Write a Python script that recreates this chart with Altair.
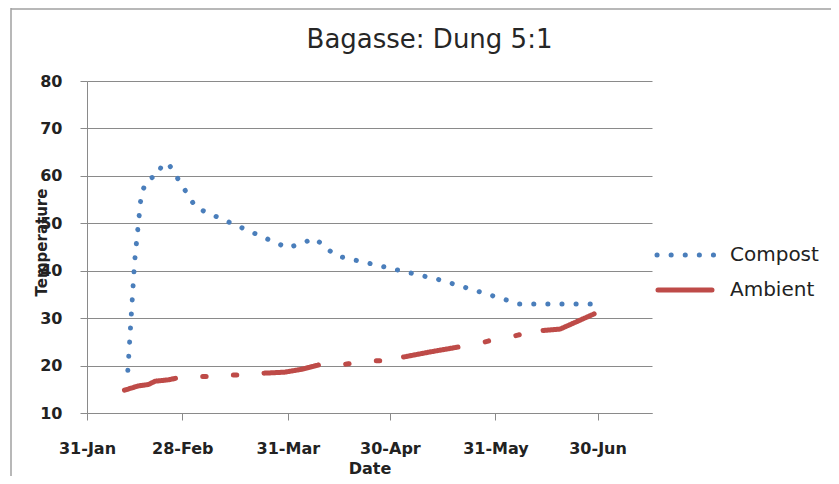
import altair as alt
import pandas as pd

title_text = "Bagasse: Dung 5:1"
x_title = "Date"
y_title = "Temperature"
series_names = ["Compost", "Ambient"]
series_colors = ["#4A7EBB", "#BE4B48"]
series_dashes = [[0.1, 14], [1, 0]]

start_date = "2011-01-31"
end_date = "2011-07-16"
tick_dates = ["2011-01-31", "2011-02-28", "2011-03-31", "2011-04-30", "2011-05-31", "2011-06-30"]
tick_labels = ["31-Jan", "28-Feb", "31-Mar", "30-Apr", "31-May", "30-Jun"]
y_ticks = [10, 20, 30, 40, 50, 60, 70, 80]

compost_dates = ["2011-02-12", "2011-02-14", "2011-02-16", "2011-02-18", "2011-02-21",
                 "2011-02-22", "2011-02-24", "2011-03-04", "2011-03-31", "2011-04-08",
                 "2011-04-14", "2011-05-14", "2011-05-22", "2011-06-07", "2011-06-30"]
compost_values = [19, 42, 56.5, 59.3, 60.2, 62.5, 62.5, 53.3, 44.8, 46.8, 43.2, 38.2, 36.5, 33, 33]

ambient_dates = ["2011-02-11", "2011-02-15", "2011-02-18", "2011-02-20", "2011-02-24", "2011-02-26",
                 "2011-03-06", "2011-03-07",
                 "2011-03-15", "2011-03-16",
                 "2011-03-24", "2011-03-30", "2011-04-04", "2011-04-09",
                 "2011-04-17", "2011-04-18",
                 "2011-04-26", "2011-04-27",
                 "2011-05-04", "2011-05-12", "2011-05-20",
                 "2011-05-28", "2011-05-29",
                 "2011-06-06", "2011-06-07",
                 "2011-06-14", "2011-06-19", "2011-06-29"]
ambient_values = [14.8, 15.7, 16.0, 16.7, 17.0, 17.3,
                  17.7, 17.7,
                  18.0, 18.0,
                  18.4, 18.6, 19.2, 20.1,
                  20.3, 20.4,
                  21.0, 21.0,
                  21.8, 22.9, 23.9,
                  25.0, 25.2,
                  26.3, 26.5,
                  27.4, 27.7, 30.9]
ambient_segments = [1, 1, 1, 1, 1, 1,
                    2, 2,
                    3, 3,
                    4, 4, 4, 4,
                    5, 5,
                    6, 6,
                    7, 7, 7,
                    8, 8,
                    9, 9,
                    10, 10, 10]

t0 = pd.Timestamp(start_date)


def day_of(d):
    return (pd.Timestamp(d) - t0).days


rows = []
for d, v in zip(compost_dates, compost_values):
    rows.append({"date": d, "day": day_of(d), "value": v, "series": "Compost", "seg": "C0"})
for d, v, s in zip(ambient_dates, ambient_values, ambient_segments):
    rows.append({"date": d, "day": day_of(d), "value": v, "series": "Ambient", "seg": f"A{s}"})
df = pd.DataFrame(rows)

tick_days = [day_of(d) for d in tick_dates]
end_day = day_of(end_date)
label_expr = ("[" + ",".join(f"'{l}'" for l in tick_labels) + "][indexof(["
              + ",".join(str(d) for d in tick_days) + "], datum.value)]")

line = alt.Chart(df).mark_line(strokeWidth=5, strokeCap="round", strokeJoin="round").encode(
    x=alt.X("day:Q",
            scale=alt.Scale(domain=[0, end_day], nice=False, zero=False),
            axis=alt.Axis(values=tick_days, labelExpr=label_expr, title=x_title, grid=False,
                          tickSize=7, labelPadding=20, labelFlush=False, labelOverlap=False,
                          titleY=47, titleBaseline="top", titleFontSize=16)),
    y=alt.Y("value:Q",
            scale=alt.Scale(domain=[10, 80], nice=False, zero=False),
            axis=alt.Axis(values=y_ticks, title=y_title, grid=True, tickSize=7, labelPadding=18,
                          titleX=-46, titleY=161, titleBaseline="middle", titleAlign="center",
                          titleFontSize=15)),
    color=alt.Color("series:N", scale=alt.Scale(domain=series_names, range=series_colors), legend=None),
    strokeDash=alt.StrokeDash("series:N", scale=alt.Scale(domain=series_names, range=series_dashes),
                              legend=None),
    detail="seg:N",
)

# legend drawn as chart decorations (one entry per series)
one = pd.DataFrame({"k": [0]})
legend_layers = []
legend_rows_y = [174, 209]
legend_sym_x = [(570, 631), (571, 625)]
for name, col, dash, ly, (sx1, sx2) in zip(series_names, series_colors, series_dashes, legend_rows_y, legend_sym_x):
    legend_layers.append(
        alt.Chart(one).mark_rule(color=col, strokeWidth=5, strokeCap="round", strokeDash=dash).encode(
            x=alt.value(sx1), x2=alt.value(sx2), y=alt.value(ly)))
    legend_layers.append(
        alt.Chart(one).mark_text(text=name, font="DejaVu Sans", fontSize=20, color="#222222",
                                 align="left", baseline="middle").encode(
            x=alt.value(643), y=alt.value(ly)))

left_border = alt.Chart(one).mark_rule(color="#a0a0a0", strokeWidth=1.5).encode(
    x=alt.value(-76), y=alt.value(-73), y2=alt.value(395))
top_border = alt.Chart(one).mark_rule(color="#a0a0a0", strokeWidth=1.5).encode(
    x=alt.value(-76), x2=alt.value(752), y=alt.value(-72))

chart = alt.layer(line, *legend_layers, left_border, top_border).properties(
    width=565, height=332,
    autosize=alt.AutoSizeParams(type="none"),
    padding={"left": 79, "top": 73, "right": 179, "bottom": 63},
    title=alt.TitleParams(text=title_text, font="DejaVu Sans", fontSize=26, fontWeight="normal",
                          color="#262626", anchor="middle", frame="group", dx=60, offset=0, dy=67,
                          baseline="alphabetic"),
).configure_axis(
    labelFont="DejaVu Sans", labelFontSize=16, labelFontWeight="bold", labelColor="#222222",
    titleFont="DejaVu Sans", titleFontWeight="bold", titleColor="#222222",
    domainColor="#8a8a8a", tickColor="#8a8a8a", gridColor="#8a8a8a",
    gridWidth=1, domainWidth=1, tickWidth=1,
).configure_view(strokeWidth=0)

chart.save("out.html", embed_options={"renderer": "svg", "actions": False})
